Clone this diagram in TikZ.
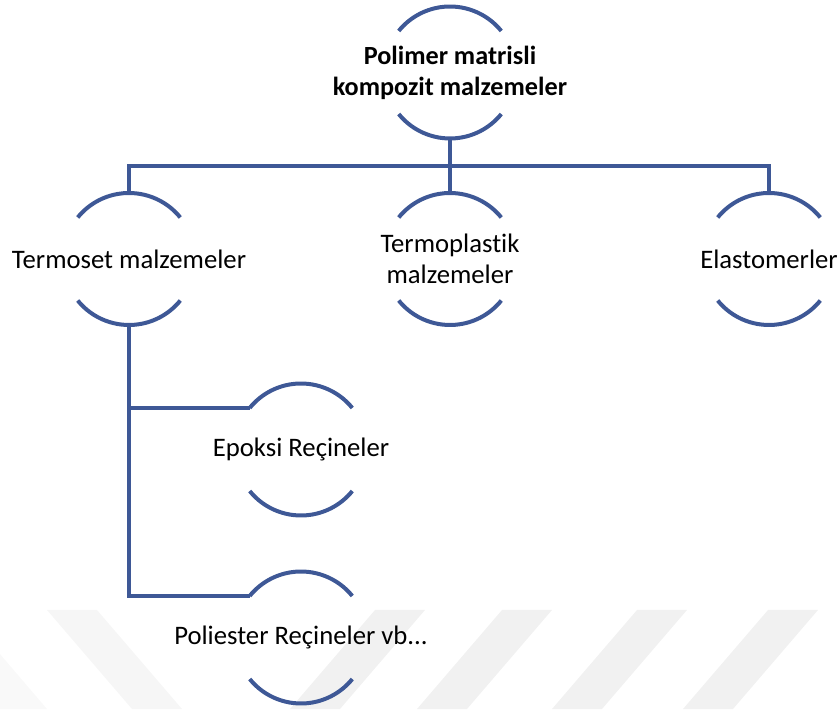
\documentclass[tikz,border=0pt]{standalone}
\usepackage{fontspec}
\setmainfont{Carlito}[Ligatures={NoCommon}]
\definecolor{myblue}{RGB}{62,88,150}
\definecolor{wmA}{RGB}{241,241,241}
\definecolor{wmB}{RGB}{246,246,246}
\definecolor{wmC}{RGB}{249,249,249}
\begin{document}
\begin{tikzpicture}[x=1pt,y=1pt,
  ring/.style={circle, minimum size=132pt, inner sep=0pt, outer sep=0pt},
  lbl/.style={align=center, font=\fontsize{26.7}{31}\selectfont, text=black, inner sep=0pt},
  arcline/.style={draw=myblue, line width=4pt},
  conn/.style={draw=myblue, line width=4pt}]
\useasboundingbox (0,0) rectangle (840,709);
% watermark
\begin{scope}
\clip (0,0) rectangle (840,709);
\fill[wmB] (47,99) -- (97,99) -- (182,0) -- (132,0) -- cycle;
\fill[wmC] (0,55) -- (47,0) -- (0,0) -- cycle;
\foreach \xl in {375,502,637,768}{
  \fill[wmA] (\xl,99) -- (\xl+50,99) -- (\xl-35,0) -- (\xl-85,0) -- cycle;
}
\end{scope}
% nodes
\node[ring] (root) at (450,636.5) {};
\node[ring] (termoset) at (129,450) {};
\node[ring] (termoplastik) at (450,450) {};
\node[ring] (elastomer) at (769,450) {};
\node[ring] (epoksi) at (301,259.5) {};
\node[ring] (poliester) at (301,71.5) {};
\foreach \n in {root,termoset,termoplastik,elastomer,epoksi,poliester}{
  \draw[arcline] (\n.39) arc[start angle=39, end angle=141, radius=66pt];
  \draw[arcline] (\n.219) arc[start angle=219, end angle=321, radius=66pt];
}
% labels
\node[lbl, font=\fontsize{26.2}{31}\selectfont\bfseries] (rootT) at (root) {Polimer matrisli\\kompozit malzemeler};
\node[lbl] (termosetT) at (termoset) {Termoset malzemeler};
\node[lbl] (termoplastikT) at (termoplastik) {Termoplastik\\malzemeler};
\node[lbl] (elastomerT) at (elastomer) {Elastomerler};
\node[lbl] (epoksiT) at (epoksi) {Epoksi Reçineler};
\node[lbl] (poliesterT) at (poliester) {Poliester Reçineler vb...};
% connectors
\draw[conn] (root.south) -- (termoplastik.north);
\draw[conn] (root.south) ++(0,-27.5) -| (termoset.north);
\draw[conn] (root.south) ++(0,-27.5) -| (elastomer.north);
\draw[conn] (termoset.south) |- (epoksi.141);
\draw[conn] (termoset.south) |- (poliester.141);
\end{tikzpicture}
\end{document}
